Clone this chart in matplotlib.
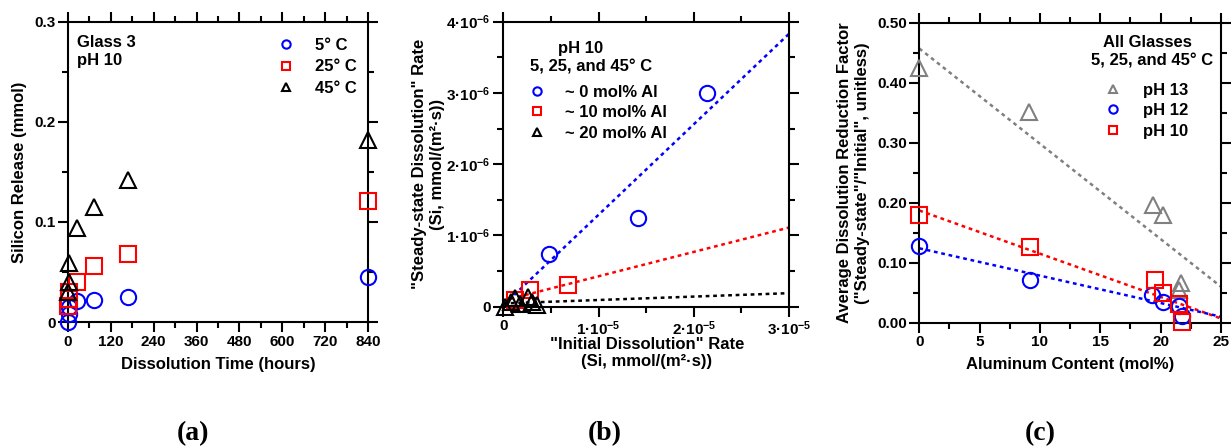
import matplotlib
matplotlib.use('Agg')
import numpy as np
import matplotlib.pyplot as plt
from matplotlib.lines import Line2D
from matplotlib.ticker import MultipleLocator, FuncFormatter

plt.rcParams['font.family'] = 'Liberation Sans'
plt.rcParams['font.weight'] = 'bold'
plt.rcParams['axes.labelweight'] = 'bold'
plt.rcParams['mathtext.fontset'] = 'custom'
plt.rcParams['mathtext.rm'] = 'Liberation Sans:bold'
plt.rcParams['mathtext.bf'] = 'Liberation Sans:bold'
plt.rcParams['mathtext.it'] = 'Liberation Sans:bold'

# (a) Glass 3, pH 10: silicon release vs time
time_5c = [0, 2, 4, 24, 72, 168, 840]
si_5c = [0.000, 0.008, 0.015, 0.021, 0.022, 0.025, 0.045]
time_25c = [0, 2, 4, 24, 72, 168, 840]
si_25c = [0.016, 0.023, 0.030, 0.040, 0.056, 0.068, 0.121]
time_45c = [0, 2, 4, 24, 72, 168, 840]
si_45c = [0.030, 0.040, 0.059, 0.094, 0.115, 0.142, 0.182]

# (b) pH 10: steady-state rate vs initial rate
init_0al = [0.48e-5, 1.41e-5, 2.14e-5]
ss_0al = [0.74e-6, 1.24e-6, 3.00e-6]
init_10al = [0.12e-5, 0.28e-5, 0.68e-5]
ss_10al = [0.10e-6, 0.23e-6, 0.31e-6]
init_20al = [0.02e-5, 0.08e-5, 0.12e-5, 0.18e-5, 0.26e-5, 0.30e-5, 0.35e-5]
ss_20al = [0.00e-6, 0.06e-6, 0.12e-6, 0.04e-6, 0.14e-6, 0.06e-6, 0.02e-6]
# trend lines (slope, intercept) and x range
fit_0al = (0.127, 0.02e-6)
fit_10al = (0.0342, 0.085e-6)
fit_20al = (0.0048, 0.046e-6)
fit_x = [0.0, 3e-5]

# (c) all glasses: reduction factor vs Al content
al_ph13 = [0, 9.1, 19.4, 20.2, 21.5, 21.7]
factor_ph13 = [0.424, 0.352, 0.196, 0.180, 0.055, 0.066]
al_ph12 = [0, 9.2, 19.3, 20.2, 21.5, 21.8]
factor_ph12 = [0.128, 0.071, 0.047, 0.034, 0.028, 0.012]
al_ph10 = [0, 9.2, 19.5, 20.2, 21.5, 21.8]
factor_ph10 = [0.180, 0.126, 0.072, 0.049, 0.031, 0.002]
trend_x = [0, 25]
trend_ph13 = [0.457, 0.060]
trend_ph12 = [0.124, 0.010]
trend_ph10 = [0.187, 0.007]

BLUE = '#0000ff'
RED = '#ff0000'
GREY = '#808080'

fig = plt.figure(figsize=(12.31, 4.46), dpi=100)
ax_a = fig.add_axes([68 / 1231, 1 - 322 / 446, 300 / 1231, 300 / 446])
ax_b = fig.add_axes([503.3 / 1231, 1 - 306.7 / 446, 285.7 / 1231, 285 / 446])
ax_c = fig.add_axes([919.3 / 1231, 1 - 322.7 / 446, 301.7 / 1231, 300 / 446])


def style_axes(ax):
    for s in ax.spines.values():
        s.set_linewidth(1.5)
    ax.tick_params(which='both', direction='out', top=True, right=True,
                   width=1.5, labelsize=11, pad=2)
    ax.tick_params(which='major', length=7)
    ax.tick_params(which='minor', length=4.5)


def marker_kw(color, marker, ms=11):
    return dict(ls='none', marker=marker, mfc='none', mec=color, ms=ms,
                mew=1.5, clip_on=False, zorder=3)


def legend_handles(specs):
    return [Line2D([], [], ls='none', marker=m, mfc='none', mec=c, ms=6,
                   mew=1.5) for c, m in specs]


# ---------- (a)
ax = ax_a
ax.plot(time_5c, si_5c, **marker_kw(BLUE, 'o'))
ax.plot(time_25c, si_25c, **marker_kw(RED, 's'))
ax.plot(time_45c, si_45c, **marker_kw('black', '^', 12))
ax.set_xlim(0, 840)
ax.set_ylim(0, 0.3)
ax.xaxis.set_major_locator(MultipleLocator(120))
ax.xaxis.set_minor_locator(MultipleLocator(60))
ax.yaxis.set_major_locator(MultipleLocator(0.1))
ax.yaxis.set_minor_locator(MultipleLocator(0.05))
ax.yaxis.set_major_formatter(FuncFormatter(lambda v, p: '0' if v == 0 else f'{v:.1f}'))
style_axes(ax)
ax.set_xlabel('Dissolution Time (hours)', fontsize=12)
ax.set_ylabel('Silicon Release (mmol)', fontsize=12, va='center')
ax.xaxis.set_label_coords(0.5, -0.117)
ax.yaxis.set_label_coords(-0.163, 0.5)
ax.text(0.03, 0.958, 'Glass 3\npH 10', transform=ax.transAxes, fontsize=12,
        va='top', ha='left', linespacing=1.3)
ax.legend(legend_handles([(BLUE, 'o'), (RED, 's'), ('black', '^')]),
          ['5° C', '25° C', '45° C'], loc='upper left',
          bbox_to_anchor=(0.70, 0.948), frameon=False, fontsize=12,
          handlelength=1.0, handletextpad=1.22, labelspacing=0.41,
          borderpad=0, borderaxespad=0)

# ---------- (b)
ax = ax_b
xs = np.array(fit_x)
ax.plot(xs, fit_0al[0] * xs + fit_0al[1], color=BLUE, lw=1.8, ls=(0, (1.5, 1.5)), zorder=2)
ax.plot(xs, fit_10al[0] * xs + fit_10al[1], color=RED, lw=1.8, ls=(0, (1.5, 1.5)), zorder=2)
ax.plot(xs, fit_20al[0] * xs + fit_20al[1], color='black', lw=1.8, ls=(0, (1.5, 1.5)), zorder=2)
ax.plot(init_0al, ss_0al, **marker_kw(BLUE, 'o'))
ax.plot(init_10al, ss_10al, **marker_kw(RED, 's'))
ax.plot(init_20al, ss_20al, **marker_kw('black', '^', 12))
ax.set_xlim(0, 3e-5)
ax.set_ylim(0, 4e-6)
ax.xaxis.set_major_locator(MultipleLocator(1e-5))
ax.xaxis.set_minor_locator(MultipleLocator(0.5e-5))
ax.yaxis.set_major_locator(MultipleLocator(1e-6))
ax.yaxis.set_minor_locator(MultipleLocator(0.5e-6))


def sci_fmt(exp):
    def f(v, p):
        n = round(v / 10 ** exp)
        if n == 0:
            return '0'
        return f'{n}·10$^{{{exp}}}$'
    return FuncFormatter(f)


ax.xaxis.set_major_formatter(sci_fmt(-5))
ax.yaxis.set_major_formatter(sci_fmt(-6))
style_axes(ax)
ax.set_xlabel('"Initial Dissolution" Rate\n(Si, mmol/(m²·s))', fontsize=12, va='center')
ax.set_ylabel('"Steady-state Dissolution" Rate\n(Si, mmol/(m²·s))', fontsize=12, va='center')
ax.xaxis.set_label_coords(0.503, -0.163)
ax.yaxis.set_label_coords(-0.262, 0.5)
ax.text(0.272, 0.905, 'pH 10', transform=ax.transAxes, fontsize=12, ha='center', va='center')
ax.text(0.307, 0.84, '5, 25, and 45° C', transform=ax.transAxes, fontsize=12, ha='center', va='center')
ax.legend(legend_handles([(BLUE, 'o'), (RED, 's'), ('black', '^')]),
          ['~ 0 mol% Al', '~ 10 mol% Al', '~ 20 mol% Al'], loc='upper left',
          bbox_to_anchor=(0.0875, 0.779), frameon=False, fontsize=12,
          handlelength=1.0, handletextpad=1.23, labelspacing=0.33,
          borderpad=0, borderaxespad=0)

# ---------- (c)
ax = ax_c
ax.plot(trend_x, trend_ph13, color=GREY, lw=1.8, ls=(0, (1.5, 1.5)), zorder=2)
ax.plot(trend_x, trend_ph10, color=RED, lw=1.8, ls=(0, (1.5, 1.5)), zorder=2)
ax.plot(trend_x, trend_ph12, color=BLUE, lw=1.8, ls=(0, (1.5, 1.5)), zorder=2)
ax.plot(al_ph13, factor_ph13, **marker_kw(GREY, '^', 12))
ax.plot(al_ph12, factor_ph12, **marker_kw(BLUE, 'o'))
ax.plot(al_ph10, factor_ph10, **marker_kw(RED, 's'))
ax.set_xlim(0, 25)
ax.set_ylim(0, 0.5)
ax.xaxis.set_major_locator(MultipleLocator(5))
ax.xaxis.set_minor_locator(MultipleLocator(2.5))
ax.yaxis.set_major_locator(MultipleLocator(0.1))
ax.yaxis.set_minor_locator(MultipleLocator(0.05))
ax.yaxis.set_major_formatter(FuncFormatter(lambda v, p: f'{v:.2f}'))
style_axes(ax)
ax.set_xlabel('Aluminum Content (mol%)', fontsize=12)
ax.set_ylabel('Average Dissolution Reduction Factor\n("Steady-state"/"Initial", unitless)',
              fontsize=12, va='center')
ax.xaxis.set_label_coords(0.5, -0.114)
ax.yaxis.set_label_coords(-0.218, 0.5)
ax.text(0.757, 0.935, 'All Glasses', transform=ax.transAxes, fontsize=12, ha='center', va='center')
ax.text(0.770, 0.873, '5, 25, and 45° C', transform=ax.transAxes, fontsize=12, ha='center', va='center')
ax.legend(legend_handles([(GREY, '^'), (BLUE, 'o'), (RED, 's')]),
          ['pH 13', 'pH 12', 'pH 10'], loc='upper left',
          bbox_to_anchor=(0.615, 0.80), frameon=False, fontsize=12,
          handlelength=1.0, handletextpad=1.27, labelspacing=0.33,
          borderpad=0, borderaxespad=0)

# panel letters
for lab, xp in [('(a)', 193), ('(b)', 605), ('(c)', 1040)]:
    fig.text(xp / 1231, 1 - 434 / 446, lab, family='Liberation Serif',
             weight='bold', fontsize=20, ha='center', va='center')

fig.savefig('out.png', dpi=100)
